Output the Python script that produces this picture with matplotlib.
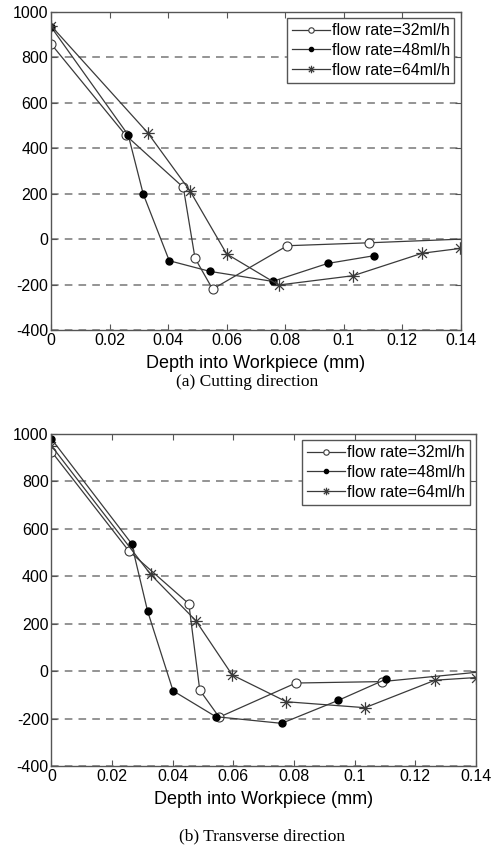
import matplotlib.pyplot as plt
from matplotlib.path import Path

plt.rcParams['font.family'] = ['Liberation Sans', 'DejaVu Sans']
plt.rcParams['axes.unicode_minus'] = False

labels = ['flow rate=32ml/h', 'flow rate=48ml/h', 'flow rate=64ml/h']

# (a) cutting direction
cut_x_32 = [0, 0.0255, 0.0452, 0.0492, 0.0552, 0.0807, 0.1087, 0.14]
cut_y_32 = [860, 458, 228, -84, -220, -29, -16, 0]
cut_x_48 = [0, 0.0264, 0.0315, 0.0404, 0.0543, 0.0757, 0.0945, 0.1103]
cut_y_48 = [935, 458, 199, -95, -142, -186, -107, -73]
cut_x_64 = [0, 0.033, 0.0475, 0.060, 0.0778, 0.1032, 0.1268, 0.1397]
cut_y_64 = [940, 469, 212, -65, -202, -161, -62, -41]

# (b) transverse direction
tr_x_32 = [0, 0.0255, 0.0453, 0.0489, 0.0553, 0.0806, 0.109, 0.14]
tr_y_32 = [926, 507, 284, -80, -194, -50, -44, -5]
tr_x_48 = [0, 0.0264, 0.0317, 0.0401, 0.0542, 0.0759, 0.0946, 0.1103]
tr_y_48 = [979, 538, 253, -83, -192, -220, -123, -34]
tr_x_64 = [0, 0.0327, 0.0476, 0.0596, 0.0775, 0.1034, 0.1265, 0.14]
tr_y_64 = [950, 408, 213, -16, -129, -154, -38, -27]

line_col = '#3a3a3a'
axis_col = '#555555'

# asterisk marker: '+' and 'x' strokes together
d = 0.7071
star_verts = [(-1, 0), (1, 0), (0, -1), (0, 1), (-d, -d), (d, d), (-d, d), (d, -d)]
star_codes = [Path.MOVETO, Path.LINETO] * 4
asterisk = Path(star_verts, star_codes)


def draw_panel(ax, series):
    styles = [
        dict(marker='o', mfc='white', mec=line_col, ms=6.5, mew=0.8,
             markevery=slice(0, -1)),
        dict(marker='o', mfc='black', mec='black', ms=5),
        dict(marker=asterisk, mfc='none', mec=line_col, ms=9, mew=0.9),
    ]
    for (x, y), lab, st in zip(series, labels, styles):
        ax.plot(x, y, color=line_col, lw=0.9, label=lab, **st)
    ax.set_xlim(0, 0.14)
    ax.set_ylim(-400, 1000)
    ax.set_xticks([0, 0.02, 0.04, 0.06, 0.08, 0.1, 0.12, 0.14])
    ax.set_xticklabels(['0', '0.02', '0.04', '0.06', '0.08', '0.1', '0.12', '0.14'])
    ax.set_yticks(range(-400, 1001, 200))
    ax.yaxis.grid(True, linestyle=(0, (5, 4)), color='#777777', lw=1.1)
    ax.tick_params(direction='in', top=True, right=True, labelsize=11.5,
                   color=axis_col, length=4, pad=2)
    for s in ax.spines.values():
        s.set_color(axis_col)
        s.set_linewidth(1.0)
    ax.set_xlabel('Depth into Workpiece (mm)', fontsize=13, labelpad=5)
    leg = ax.legend(loc='upper right', fontsize=11.5, handlelength=2.4,
                    handletextpad=0.1, borderpad=0.3, labelspacing=0.3,
                    fancybox=False, framealpha=1, borderaxespad=0.4,
                    markerscale=0.6)
    leg.get_frame().set_edgecolor(axis_col)
    leg.get_frame().set_linewidth(1.0)


fig = plt.figure(figsize=(4.95, 8.47), dpi=100)

ax1 = fig.add_axes([0.103, 0.6104, 0.828, 0.3754])
draw_panel(ax1, [(cut_x_32, cut_y_32), (cut_x_48, cut_y_48), (cut_x_64, cut_y_64)])

ax2 = fig.add_axes([0.104, 0.0956, 0.8576, 0.392])
draw_panel(ax2, [(tr_x_32, tr_y_32), (tr_x_48, tr_y_48), (tr_x_64, tr_y_64)])

fig.text(0.5, 1 - 382 / 847, '(a) Cutting direction', ha='center', va='center',
         family='Liberation Serif', fontsize=12.5)
fig.text(0.53, 1 - 836 / 847, '(b) Transverse direction', ha='center', va='center',
         family='Liberation Serif', fontsize=12.5)

fig.savefig('out.png', dpi=100)
